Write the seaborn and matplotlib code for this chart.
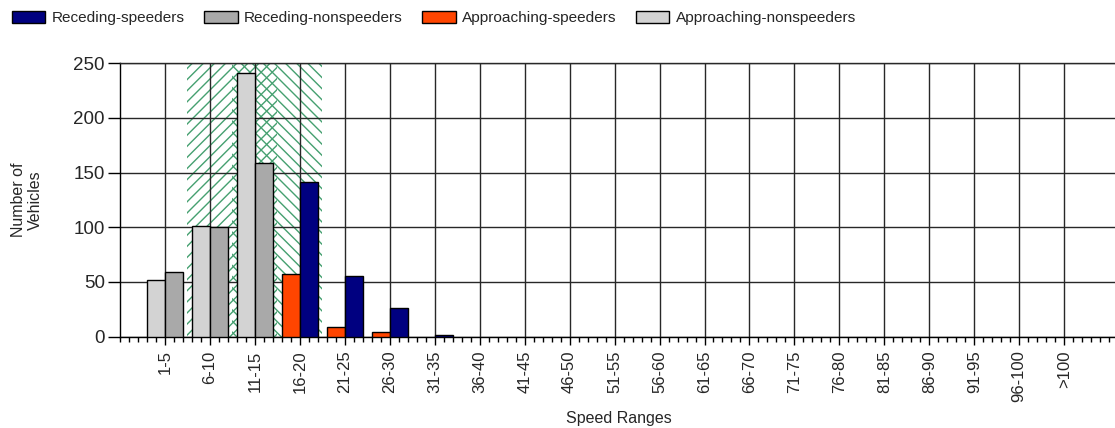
import matplotlib
matplotlib.use("Agg")
import matplotlib.pyplot as plt
from matplotlib.patches import Patch
from matplotlib.ticker import MultipleLocator, FixedLocator
import seaborn as sns
import pandas as pd
import numpy as np

categories = ["1-5", "6-10", "11-15", "16-20", "21-25", "26-30", "31-35", "36-40",
              "41-45", "46-50", "51-55", "56-60", "61-65", "66-70", "71-75", "76-80",
              "81-85", "86-90", "91-95", "96-100", ">100"]
receding_speeders = [0, 0, 0, 141, 55, 26, 1, 0, 0, 0, 0, 0, 0, 0, 0, 0, 0, 0, 0, 0, 0]
receding_nonspeeders = [59, 100, 159, 0, 0, 0, 0, 0, 0, 0, 0, 0, 0, 0, 0, 0, 0, 0, 0, 0, 0]
approaching_speeders = [0, 0, 0, 57, 9, 4, 0, 0, 0, 0, 0, 0, 0, 0, 0, 0, 0, 0, 0, 0, 0]
approaching_nonspeeders = [52, 101, 241, 0, 0, 0, 0, 0, 0, 0, 0, 0, 0, 0, 0, 0, 0, 0, 0, 0, 0]
series_names = ["Receding-speeders", "Receding-nonspeeders",
                "Approaching-speeders", "Approaching-nonspeeders"]
y_ticks = [0, 50, 100, 150, 200, 250]
zone_a = (0.5, 2.5)
zone_b = (1.5, 3.5)

col_rs = "#000080"
col_rn = "#A9A9A9"
col_as = "#FF4500"
col_an = "#D3D3D3"
hatch_green = "#45A070"

sns.set_style("white")
plt.rcParams["font.family"] = ["Liberation Sans", "DejaVu Sans"]
plt.rcParams["hatch.linewidth"] = 1.0

def long_frame(appr, rec):
    rows = []
    for c, a, r in zip(categories, appr, rec):
        rows.append({"range": c, "direction": "Approaching", "count": a})
        rows.append({"range": c, "direction": "Receding", "count": r})
    df = pd.DataFrame(rows)
    df["count"] = df["count"].replace(0, np.nan)
    return df

df_non = long_frame(approaching_nonspeeders, receding_nonspeeders)
df_spd = long_frame(approaching_speeders, receding_speeders)

fig = plt.figure(figsize=(11.15, 4.28), dpi=100)
ax = fig.add_axes([120 / 1115, 1 - 336.5 / 428, 1 - 120 / 1115, (336.5 - 63.3) / 428])

ax.axvspan(*zone_a, facecolor="none", edgecolor=hatch_green, hatch="///", linewidth=0, zorder=0.5)
ax.axvspan(*zone_b, facecolor="none", edgecolor=hatch_green, hatch="\\\\\\", linewidth=0, zorder=0.5)

common = dict(x="range", y="count", hue="direction", order=categories,
              hue_order=["Approaching", "Receding"], width=0.8, dodge=True,
              edgecolor="black", linewidth=1, saturation=1, legend=False,
              errorbar=None, zorder=3, ax=ax)
sns.barplot(data=df_non, palette={"Approaching": col_an, "Receding": col_rn}, **common)
sns.barplot(data=df_spd, palette={"Approaching": col_as, "Receding": col_rs}, **common)

ax.set_xlim(-1, 21.13)
ax.set_ylim(0, 250)
ax.yaxis.set_major_locator(FixedLocator(y_ticks))
ax.xaxis.set_minor_locator(MultipleLocator(0.2))
ax.set_xticks(range(len(categories)))
ax.set_xticklabels(categories, rotation=90, fontsize=12)
ax.tick_params(axis="y", labelsize=13.5, length=9, width=1, color="black", direction="out", left=True, pad=2)
ax.tick_params(axis="x", which="major", length=6, width=1, color="black", direction="out", bottom=True, pad=4)
ax.tick_params(axis="x", which="minor", length=3.5, width=1, color="black", direction="out", bottom=True)
ax.grid(True, which="major", axis="both", color="#282828", linewidth=1, zorder=1)
ax.set_axisbelow(True)
ax.spines["right"].set_visible(False)
ax.spines["top"].set_color("#282828")
ax.spines["left"].set_color("black")
ax.spines["bottom"].set_color("black")
for s in ax.spines.values():
    s.set_linewidth(1)

ax.set_xlabel("Speed Ranges", fontsize=11.5)
ax.xaxis.set_label_coords((619 - 120) / 995, (336.5 - 418) / 273.2)
ax.set_ylabel("Number of\nVehicles", fontsize=11.5, multialignment="center")
ax.yaxis.set_label_coords((27 - 120) / 995, 0.5)
ax.yaxis.label.set_verticalalignment("center")
ax.xaxis.label.set_verticalalignment("center")

handles = [Patch(facecolor=c, edgecolor="black", linewidth=1, label=n)
           for c, n in zip([col_rs, col_rn, col_as, col_an], series_names)]
fig.legend(handles=handles, loc="upper left", bbox_to_anchor=(12 / 1115, 1 - 11 / 428),
           ncol=4, frameon=False, fontsize=11.1, handlelength=2.15, handleheight=0.85,
           handletextpad=0.4, columnspacing=1.3, borderpad=0, borderaxespad=0)

fig.savefig("out.png", dpi=100)
